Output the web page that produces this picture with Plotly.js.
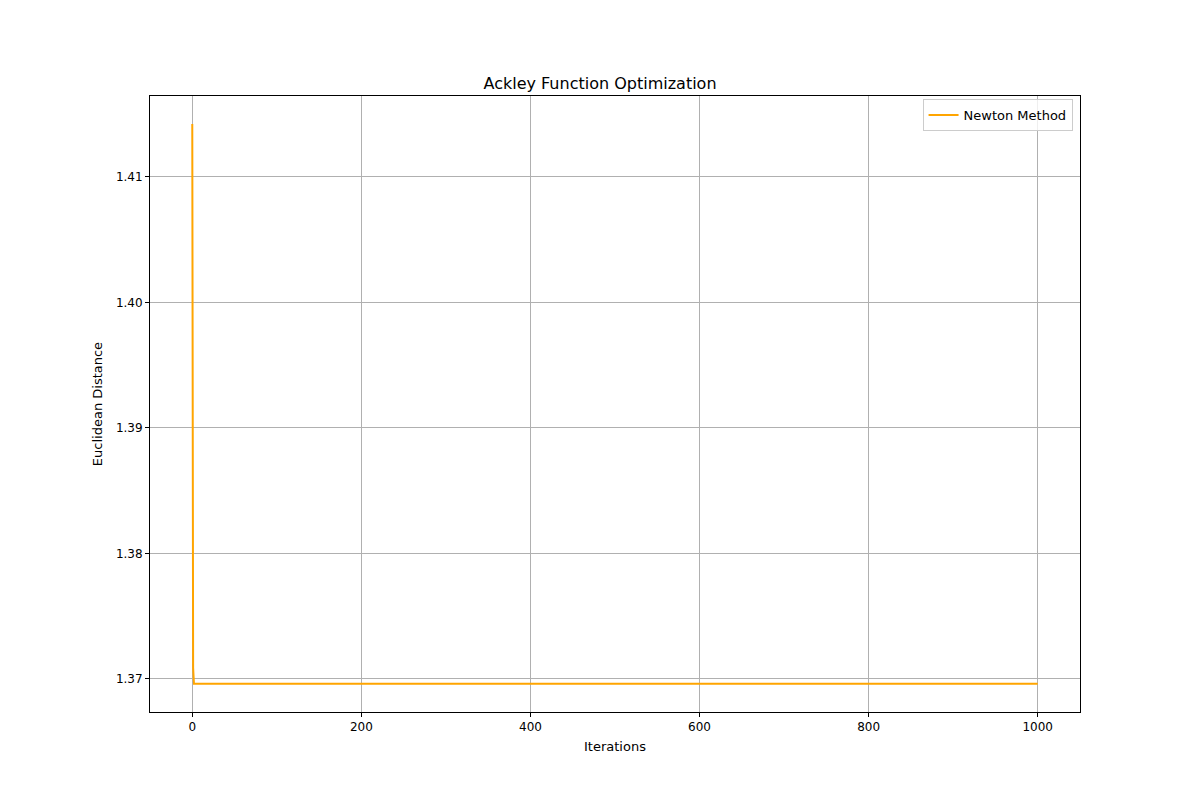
<!DOCTYPE html>
<html>
<head>
<meta charset="utf-8">
<script src="https://cdn.plot.ly/plotly-3.0.1.min.js"></script>
<style>body{margin:0;background:#fff}</style>
</head>
<body>
<div id="plot" style="width:1200px;height:800px"></div>
<script>
// iterations; the curve is flat after iteration 2
const iterations = [0, 1, 2, 1000];
const distance = [1.41421, 1.3709, 1.36962, 1.36962];

const axisStyle = {
    showline: true, mirror: true, linecolor: '#000', linewidth: 1,
    ticks: 'outside', ticklen: 4, tickcolor: '#000',
    showgrid: true, gridcolor: '#b0b0b0', gridwidth: 1, zeroline: false,
    tickfont: { size: 12, color: '#000' }
};

Plotly.newPlot('plot', [{
    x: iterations, y: distance, type: 'scatter', mode: 'lines',
    name: 'Newton Method', line: { color: 'orange', width: 2 }
}], {
    width: 1200, height: 800,
    font: { family: 'DejaVu Sans, sans-serif', color: '#000' },
    paper_bgcolor: '#fff', plot_bgcolor: '#fff',
    margin: { l: 150, r: 120, t: 96, b: 88 },
    title: { text: 'Ackley Function Optimization', x: 0.5, xanchor: 'center', y: 0.889, yanchor: 'bottom', font: { size: 16 } },
    xaxis: { ...axisStyle, range: [-50, 1050], tickvals: [0, 200, 400, 600, 800, 1000],
        title: { text: 'Iterations', font: { size: 13 }, standoff: 8 } },
    yaxis: { ...axisStyle, range: [1.36737, 1.41644], tickvals: [1.37, 1.38, 1.39, 1.40, 1.41], tickformat: '.2f',
        title: { text: 'Euclidean Distance', font: { size: 13 }, standoff: 10 } },
    showlegend: true,
    legend: { x: 0.992, y: 0.995, xanchor: 'right', yanchor: 'top', bordercolor: '#ccc', borderwidth: 1,
        bgcolor: 'rgba(255,255,255,0.8)', font: { size: 13 } }
}, { displayModeBar: false });
</script>
</body>
</html>
